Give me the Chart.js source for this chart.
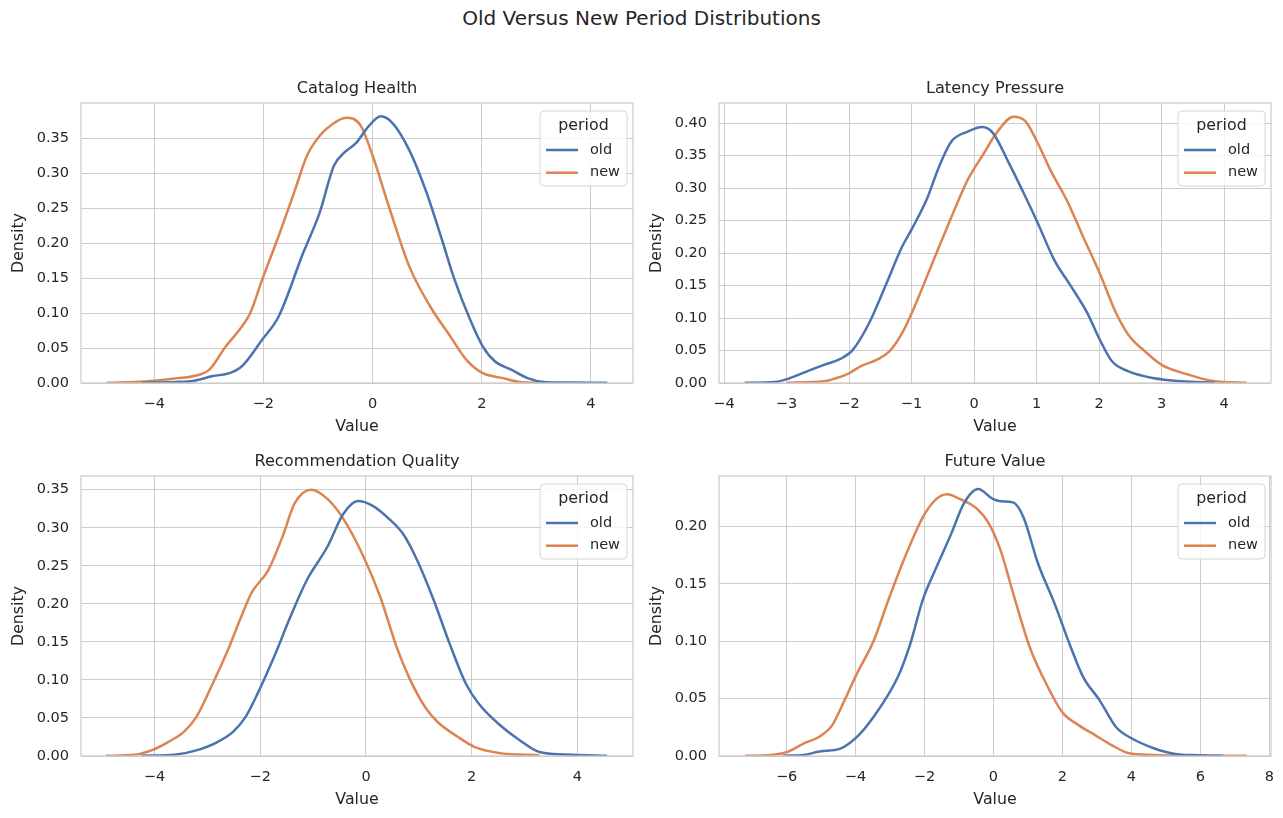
<!DOCTYPE html>
<html>
<head>
<meta charset="utf-8">
<title>Old Versus New Period Distributions</title>
<script src="https://cdn.jsdelivr.net/npm/chart.js@4.4.1/dist/chart.umd.min.js"></script>
<style>
  html, body { margin: 0; padding: 0; background: #fff; }
  body { width: 1283px; height: 818px; position: relative; overflow: hidden; font-family: "DejaVu Sans", sans-serif; }
  #suptitle { position: absolute; left: 0; top: 6px; width: 1283px; line-height: 24px; text-align: center; font-size: 20px; color: #262626; }
  .panel { position: absolute; width: 641px; height: 369px; }
</style>
</head>
<body>
<div id="suptitle">Old Versus New Period Distributions</div>
<div class="panel" style="left:0px;top:70px"><canvas id="chart-catalog"></canvas></div>
<div class="panel" style="left:638px;top:70px"><canvas id="chart-latency"></canvas></div>
<div class="panel" style="left:0px;top:443px"><canvas id="chart-recommendation"></canvas></div>
<div class="panel" style="left:638px;top:443px"><canvas id="chart-future"></canvas></div>
<script>
const periods = ["old", "new"];
const legendTitle = "period";
const panelTitles = ["Catalog Health", "Latency Pressure", "Recommendation Quality", "Future Value"];

// density curves, [value, density]
const catalogOld = [
  [-4.22, 0.0005], [-3.6, 0.0015], [-3.29, 0.003], [-2.92, 0.01], [-2.62, 0.014],
  [-2.39, 0.024], [-2.02, 0.062], [-1.72, 0.095], [-1.27, 0.186], [-0.97, 0.243],
  [-0.71, 0.31], [-0.52, 0.329], [-0.3, 0.343], [-0.07, 0.367], [0.15, 0.381],
  [0.37, 0.371], [0.67, 0.333], [0.97, 0.276], [1.27, 0.205], [1.5, 0.148],
  [1.79, 0.09], [2.02, 0.052], [2.24, 0.031], [2.54, 0.019], [2.84, 0.007],
  [3.14, 0.0015], [3.6, 0.0006], [4.3, 0.0003],
];
const catalogNew = [
  [-4.87, 0.0004], [-4.18, 0.002], [-3.66, 0.006], [-3.21, 0.011], [-2.99, 0.019],
  [-2.69, 0.052], [-2.39, 0.081], [-2.24, 0.1], [-2.02, 0.148], [-1.72, 0.21],
  [-1.42, 0.276], [-1.2, 0.325], [-0.97, 0.353], [-0.75, 0.369], [-0.49, 0.379],
  [-0.22, 0.368], [0.0, 0.325], [0.3, 0.252], [0.67, 0.167], [1.05, 0.11],
  [1.42, 0.067], [1.72, 0.033], [2.02, 0.014], [2.39, 0.007], [2.69, 0.0015],
  [3.06, 0.0003],
];
const latencyOld = [
  [-3.67, 0.0003], [-3.19, 0.0015], [-2.96, 0.007], [-2.67, 0.018], [-2.4, 0.028],
  [-2.14, 0.037], [-1.94, 0.051], [-1.68, 0.092], [-1.42, 0.149], [-1.15, 0.21],
  [-0.99, 0.238], [-0.76, 0.282], [-0.56, 0.333], [-0.36, 0.372], [-0.1, 0.387],
  [0.13, 0.394], [0.3, 0.385], [0.56, 0.338], [0.82, 0.287], [1.02, 0.246],
  [1.28, 0.19], [1.55, 0.149], [1.81, 0.108], [2.01, 0.067], [2.21, 0.033],
  [2.47, 0.018], [2.86, 0.0077], [3.32, 0.0026], [3.85, 0.0005],
];
const latencyNew = [
  [-3.0, 0.0005], [-2.4, 0.0026], [-2.2, 0.0077], [-2.0, 0.015], [-1.81, 0.026],
  [-1.55, 0.036], [-1.35, 0.049], [-1.15, 0.077], [-0.95, 0.118], [-0.69, 0.179],
  [-0.36, 0.256], [-0.1, 0.313], [0.16, 0.354], [0.36, 0.385], [0.63, 0.41],
  [0.82, 0.403], [1.02, 0.369], [1.22, 0.328], [1.48, 0.282], [1.74, 0.226],
  [2.01, 0.169], [2.27, 0.108], [2.47, 0.074], [2.73, 0.049], [3.0, 0.028],
  [3.39, 0.014], [3.85, 0.0026], [4.36, 0.0005],
];
const recommendationOld = [
  [-4.25, 0.0003], [-3.59, 0.002], [-3.21, 0.0074], [-2.82, 0.018], [-2.51, 0.032],
  [-2.28, 0.051], [-2.05, 0.082], [-1.74, 0.13], [-1.43, 0.183], [-1.12, 0.231],
  [-0.73, 0.275], [-0.43, 0.318], [-0.15, 0.335], [0.12, 0.329], [0.43, 0.312],
  [0.7, 0.292], [0.97, 0.257], [1.28, 0.205], [1.58, 0.148], [1.89, 0.095],
  [2.13, 0.069], [2.51, 0.042], [2.9, 0.021], [3.28, 0.0053], [3.9, 0.0017],
  [4.56, 0.0004],
];
const recommendationNew = [
  [-4.92, 0.0003], [-4.37, 0.0017], [-4.06, 0.0074], [-3.75, 0.018], [-3.44, 0.032],
  [-3.21, 0.051], [-2.9, 0.095], [-2.59, 0.143], [-2.36, 0.183], [-2.16, 0.215],
  [-1.85, 0.244], [-1.58, 0.288], [-1.35, 0.332], [-1.04, 0.35], [-0.73, 0.338],
  [-0.43, 0.312], [-0.04, 0.261], [0.27, 0.209], [0.58, 0.143], [0.81, 0.104],
  [1.12, 0.064], [1.35, 0.045], [1.74, 0.025], [2.05, 0.012], [2.51, 0.004],
  [3.28, 0.0009],
];
const futureOld = [
  [-6.11, 0.0003], [-5.51, 0.0009], [-5.04, 0.004], [-4.44, 0.0064], [-3.96, 0.0166],
  [-3.48, 0.034], [-2.77, 0.069], [-2.41, 0.098], [-2.05, 0.136], [-1.69, 0.162],
  [-1.22, 0.194], [-0.86, 0.22], [-0.44, 0.2326], [-0.02, 0.224], [0.21, 0.222],
  [0.57, 0.221], [0.87, 0.208], [1.29, 0.168], [1.77, 0.133], [2.24, 0.095],
  [2.6, 0.069], [3.08, 0.0485], [3.56, 0.025], [4.03, 0.015], [4.63, 0.007],
  [5.23, 0.002], [5.94, 0.0006], [6.66, 0.0002],
];
const futureNew = [
  [-7.21, 0.0002], [-6.47, 0.0009], [-5.99, 0.0035], [-5.51, 0.0108], [-5.04, 0.017],
  [-4.68, 0.0267], [-4.32, 0.0485], [-3.96, 0.0718], [-3.48, 0.1], [-3.01, 0.139],
  [-2.53, 0.176], [-2.05, 0.208], [-1.69, 0.223], [-1.34, 0.228], [-0.98, 0.224],
  [-0.5, 0.216], [-0.14, 0.203], [0.21, 0.179], [0.57, 0.142], [1.05, 0.095],
  [1.53, 0.063], [2.0, 0.038], [2.48, 0.0267], [2.96, 0.018], [3.44, 0.0093],
  [3.91, 0.0026], [4.63, 0.0009], [6.18, 0.0003], [7.35, 0.0002],
];

const catalogXTicks = [-4, -2, 0, 2, 4];
const latencyXTicks = [-4, -3, -2, -1, 0, 1, 2, 3, 4];
const recommendationXTicks = [-4, -2, 0, 2, 4];
const futureXTicks = [-6, -4, -2, 0, 2, 4, 6, 8];
const catalogYTicks = [0, 0.05, 0.1, 0.15, 0.2, 0.25, 0.3, 0.35];
const latencyYTicks = [0, 0.05, 0.1, 0.15, 0.2, 0.25, 0.3, 0.35, 0.4];
const recommendationYTicks = [0, 0.05, 0.1, 0.15, 0.2, 0.25, 0.3, 0.35];
const futureYTicks = [0, 0.05, 0.1, 0.15, 0.2];

const periodColors = ["#4c72b0", "#dd8452"];
const textColor = "#262626";
const gridColor = "#cccccc";
const fontFamily = '"DejaVu Sans", sans-serif';

Chart.defaults.font.family = fontFamily;
Chart.defaults.color = textColor;

const formatTick = (value) => String(value).replace("-", "\u2212");

// matplotlib style frame on all four sides
const axesFrame = {
  id: "axesFrame",
  afterDatasetsDraw(chart) {
    const { ctx, chartArea: a } = chart;
    ctx.save();
    ctx.strokeStyle = gridColor;
    ctx.lineWidth = 1.25;
    ctx.strokeRect(a.left, a.top, a.right - a.left, a.bottom - a.top);
    ctx.restore();
  },
};

// title centred over the plot area, not over the whole canvas
const axesTitle = {
  id: "axesTitle",
  afterDraw(chart, args, opts) {
    const { ctx, chartArea } = chart;
    ctx.save();
    ctx.fillStyle = textColor;
    ctx.textAlign = "center";
    ctx.textBaseline = "middle";
    ctx.font = `16.2px ${fontFamily}`;
    ctx.fillText(opts.text, (chartArea.left + chartArea.right) / 2, chartArea.top - 14);
    ctx.restore();
  },
};

const periodLegend = {
  id: "periodLegend",
  afterDraw(chart) {
    const { ctx, chartArea } = chart;
    const boxW = 87;
    const boxH = 75;
    const x = chartArea.right - boxW - 6;
    const y = chartArea.top + 8;
    ctx.save();
    ctx.beginPath();
    ctx.roundRect(x, y, boxW, boxH, 4);
    ctx.fillStyle = "rgba(255, 255, 255, 0.8)";
    ctx.fill();
    ctx.strokeStyle = "#d6d6d6";
    ctx.lineWidth = 1;
    ctx.stroke();
    ctx.fillStyle = textColor;
    ctx.textBaseline = "middle";
    ctx.textAlign = "center";
    ctx.font = `15.8px ${fontFamily}`;
    ctx.fillText(legendTitle, x + boxW / 2, y + 15);
    ctx.textAlign = "left";
    ctx.font = `14.5px ${fontFamily}`;
    periods.forEach((label, i) => {
      const rowY = y + 39 + i * 22.7;
      ctx.strokeStyle = periodColors[i];
      ctx.lineWidth = 2.5;
      ctx.beginPath();
      ctx.moveTo(x + 6, rowY);
      ctx.lineTo(x + 38, rowY);
      ctx.stroke();
      ctx.fillText(label, x + 50, rowY);
    });
    ctx.restore();
  },
};

const panels = [
  { canvasId: "chart-catalog", title: panelTitles[0], series: [catalogOld, catalogNew],
    xMin: -5.34, xMax: 4.77, yMax: 0.4, xTicks: catalogXTicks, yTicks: catalogYTicks },
  { canvasId: "chart-latency", title: panelTitles[1], series: [latencyOld, latencyNew],
    xMin: -4.08, xMax: 4.75, yMax: 0.431, xTicks: latencyXTicks, yTicks: latencyYTicks },
  { canvasId: "chart-recommendation", title: panelTitles[2], series: [recommendationOld, recommendationNew],
    xMin: -5.39, xMax: 5.05, yMax: 0.368, xTicks: recommendationXTicks, yTicks: recommendationYTicks },
  { canvasId: "chart-future", title: panelTitles[3], series: [futureOld, futureNew],
    xMin: -7.96, xMax: 8.05, yMax: 0.244, xTicks: futureXTicks, yTicks: futureYTicks },
];

const renderPanel = (spec) => {
  const ctx = document.getElementById(spec.canvasId);
  return new Chart(ctx, {
    type: "line",
    data: {
      datasets: spec.series.map((points, i) => ({
        label: periods[i],
        data: points.map(([x, y]) => ({ x, y })),
        borderColor: periodColors[i],
        borderWidth: 2.5,
        pointRadius: 0,
        fill: false,
        cubicInterpolationMode: "monotone",
      })),
    },
    options: {
      responsive: true,
      maintainAspectRatio: false,
      animation: false,
      layout: { padding: { left: 0, right: 8, top: 33, bottom: 0 } },
      plugins: {
        legend: { display: false },
        tooltip: { enabled: false },
        title: { display: false },
        axesTitle: { text: spec.title },
      },
      scales: {
        x: {
          type: "linear",
          min: spec.xMin,
          max: spec.xMax,
          afterBuildTicks: (axis) => {
            axis.ticks = spec.xTicks.map((value) => ({ value }));
          },
          afterFit: (axis) => {
            axis.height = 56;
            axis.paddingLeft = 0;
            axis.paddingRight = 0;
          },
          ticks: {
            color: textColor,
            font: { size: 14.5 },
            padding: 13,
            maxRotation: 0,
            autoSkip: false,
            callback: (value) => formatTick(value),
          },
          grid: { color: gridColor, lineWidth: 1, drawTicks: false },
          border: { display: false },
          title: {
            display: true,
            text: "Value",
            color: textColor,
            font: { size: 15.8 },
            padding: { top: 0, bottom: 3 },
          },
        },
        y: {
          type: "linear",
          min: 0,
          max: spec.yMax,
          afterBuildTicks: (axis) => {
            axis.ticks = spec.yTicks.map((value) => ({ value }));
          },
          afterFit: (axis) => {
            axis.width = 81;
            axis.paddingTop = 0;
            axis.paddingBottom = 0;
          },
          ticks: {
            color: textColor,
            font: { size: 14.5 },
            padding: 12,
            callback: (value) => value.toFixed(2),
          },
          grid: { color: gridColor, lineWidth: 1, drawTicks: false },
          border: { display: false },
          title: {
            display: true,
            text: "Density",
            color: textColor,
            font: { size: 15.8 },
            padding: { top: 9, bottom: 0 },
          },
        },
      },
    },
    plugins: [axesFrame, axesTitle, periodLegend],
  });
};

document.addEventListener("DOMContentLoaded", () => {
  panels.forEach(renderPanel);
});
</script>
</body>
</html>
